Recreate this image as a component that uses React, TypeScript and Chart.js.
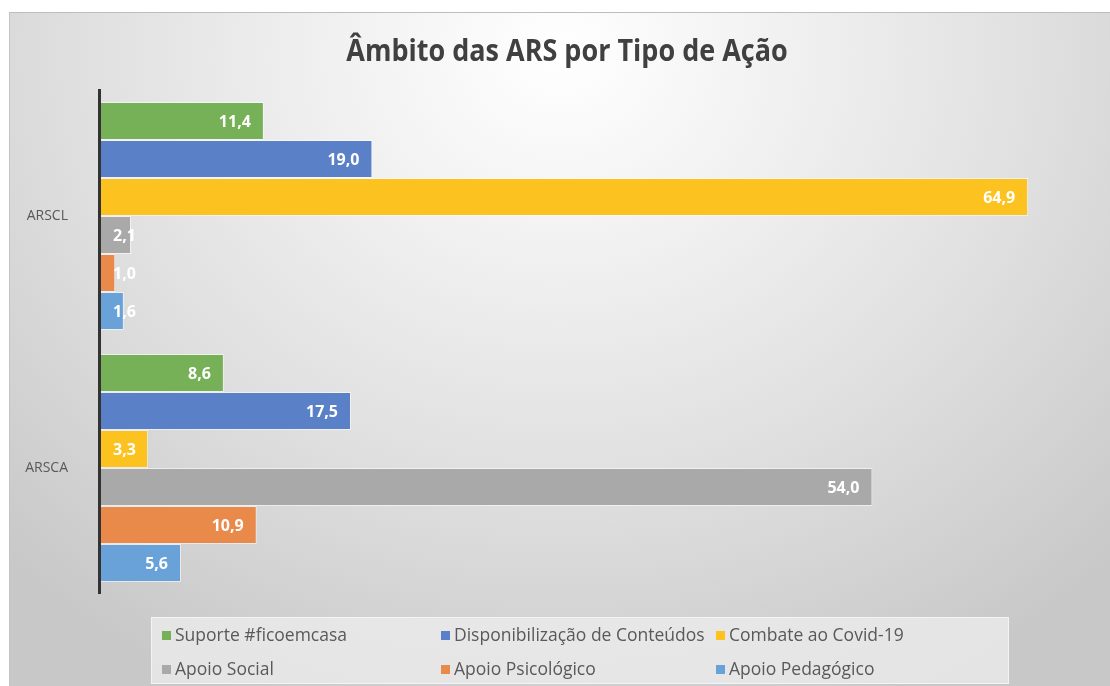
import React, { useEffect, useRef } from "react";
import { Chart, registerables } from "chart.js";

Chart.register(...registerables);

const titleText = "Âmbito das ARS por Tipo de Ação";
const categories = ["ARSCL", "ARSCA"];
const seriesNames = [
  "Suporte #ficoemcasa",
  "Disponibilização de Conteúdos",
  "Combate ao Covid-19",
  "Apoio Social",
  "Apoio Psicológico",
  "Apoio Pedagógico",
];
const suporte = [11.4, 8.6];
const disponibilizacao = [19.0, 17.5];
const combate = [64.9, 3.3];
const apoioSocial = [2.1, 54.0];
const apoioPsicologico = [1.0, 10.9];
const apoioPedagogico = [1.6, 5.6];
const seriesValues = [suporte, disponibilizacao, combate, apoioSocial, apoioPsicologico, apoioPedagogico];
const seriesColors = ["#77b157", "#5a80c8", "#fcc320", "#a9a9a9", "#e98a4b", "#69a2d8"];
const xMin = 0;
const xMax = 70;

const fmt = (v: number) => v.toFixed(1).replace(".", ",");

const decorPlugin = {
  id: "decor",
  afterDatasetsDraw(chart: any) {
    const ctx = chart.ctx;
    const area = chart.chartArea;
    ctx.save();
    // axis line
    ctx.strokeStyle = "#333333";
    ctx.lineWidth = 3;
    ctx.beginPath();
    ctx.moveTo(area.left - 1.5, area.top - 1);
    ctx.lineTo(area.left - 1.5, area.bottom);
    ctx.stroke();

    // data labels
    ctx.font = "bold 16px 'Open Sans'";
    ctx.fillStyle = "#ffffff";
    ctx.textBaseline = "middle";
    ctx.textAlign = "left";
    chart.data.datasets.forEach((ds: any, di: number) => {
      const meta = chart.getDatasetMeta(di);
      meta.data.forEach((el: any, i: number) => {
        const txt = fmt(ds.data[i]);
        const w = ctx.measureText(txt).width;
        const base = el.base;
        const x = Math.max(base + 12, el.x - 13 - w);
        ctx.fillText(txt, x, el.y + 1);
      });
    });

    // title
    ctx.save();
    ctx.font = "bold 27px 'Open Sans'";
    ctx.fillStyle = "#404040";
    ctx.textAlign = "center";
    ctx.textBaseline = "alphabetic";
    ctx.translate(557, 48);
    ctx.scale(1, 1.12);
    ctx.fillText(titleText, 0, 0);
    ctx.restore();

    // legend box
    ctx.fillStyle = "rgba(238,238,238,0.75)";
    ctx.fillRect(141, 604, 858, 67);
    ctx.strokeStyle = "rgba(245,245,245,0.9)";
    ctx.lineWidth = 1;
    ctx.strokeRect(141.5, 604.5, 857, 66);
    const cols = [152, 431, 706];
    const rows = [622, 656];
    ctx.font = "17.5px 'Open Sans'";
    ctx.textAlign = "left";
    ctx.textBaseline = "middle";
    seriesNames.forEach((name, i) => {
      const sx = cols[i % 3];
      const cy = rows[Math.floor(i / 3)];
      ctx.fillStyle = seriesColors[i];
      ctx.fillRect(sx, cy - 4, 9, 9);
      ctx.fillStyle = "#595959";
      ctx.fillText(name, sx + 13, cy + 1);
    });
    ctx.restore();
  },
};

export default function App() {
  const ref = useRef<HTMLCanvasElement | null>(null);
  useEffect(() => {
    if (!ref.current) return;
    const chart = new Chart(ref.current, {
      type: "bar",
      data: {
        labels: categories,
        datasets: seriesNames.map((name, i) => ({
          label: name,
          data: seriesValues[i],
          backgroundColor: seriesColors[i],
          borderColor: "rgba(255,255,255,0.55)",
          borderWidth: 1,
          barPercentage: 1,
          categoryPercentage: 0.905,
        })),
      },
      options: {
        indexAxis: "y",
        responsive: false,
        animation: false,
        layout: { padding: { top: 77, right: 10, bottom: 93, left: 0 } },
        plugins: {
          legend: { display: false },
          title: { display: false },
          tooltip: { enabled: false },
        },
        scales: {
          x: { display: false, min: xMin, max: xMax },
          y: {
            grid: { display: false, drawTicks: false },
            border: { display: false },
            ticks: {
              color: "#595959",
              font: { family: "'Open Sans'", size: 14 },
              padding: 33,
            },
            afterFit(scale: any) {
              scale.width = 91;
            },
          },
        },
      },
      plugins: [decorPlugin],
    });
    return () => chart.destroy();
  }, []);
  return (
    <div
      style={{
        position: "fixed",
        left: 9,
        top: 12,
        right: 0,
        bottom: 0,
        borderTop: "1px solid #bdbdbd",
        borderLeft: "1px solid #c4c4c4",
        background:
          "radial-gradient(ellipse 72% 105% at 50% 6%, #ffffff 0%, #f0f0f0 30%, #e0e0e0 60%, #c8c8c8 100%)",
        overflow: "hidden",
      }}
    >
      <canvas ref={ref} width={1101} height={674} style={{ display: "block" }} />
    </div>
  );
}
